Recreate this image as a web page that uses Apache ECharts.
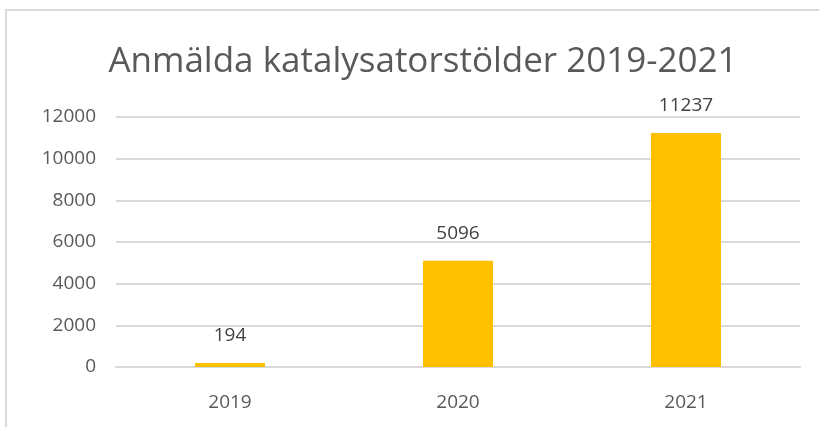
<!DOCTYPE html>
<html>
<head>
<meta charset="utf-8">
<script src="https://cdn.jsdelivr.net/npm/echarts@6/dist/echarts.min.js"></script>
<style>
  html, body { margin: 0; padding: 0; background: #fff; overflow: hidden; }
  #frame { position: absolute; left: 5px; top: 9px; width: 830px; height: 440px;
           border-left: 2px solid #d9d9d9; border-top: 2px solid #d9d9d9; }
  #main { position: absolute; left: 0; top: 0; width: 819px; height: 427px; }
</style>
</head>
<body>
<div id="frame"></div>
<div id="main"></div>
<script>
var years = ['2019', '2020', '2021'],
    thefts = [194, 5096, 11237];

var myChart = echarts.init(document.getElementById('main')),
    option = {
        title: {
            text: 'Anmälda katalysatorstölder 2019-2021',
            left: 418,
            textAlign: 'center',
            top: 40,
            textStyle: { fontFamily: 'Open Sans', fontWeight: 'normal', fontSize: 35, color: '#595959' }
        },
        grid: { left: 116, right: 19, top: 117, bottom: 60 },
        xAxis: {
            type: 'category',
            data: years,
            axisTick: { show: false },
            axisLine: { lineStyle: { color: '#d9d9d9', width: 2 } },
            axisLabel: { color: '#595959', fontSize: 19, fontFamily: 'Open Sans', margin: 26 }
        },
        yAxis: {
            type: 'value',
            min: 0,
            max: 12000,
            interval: 2000,
            axisLine: { show: false },
            axisTick: { show: false },
            splitLine: { lineStyle: { color: '#d9d9d9', width: 2 } },
            axisLabel: { color: '#595959', fontSize: 19, fontFamily: 'Open Sans', margin: 20,
                         formatter: function (v) { return String(v); } }
        },
        series: [{
            type: 'bar',
            data: thefts,
            barWidth: 70,
            itemStyle: { color: '#ffc000' },
            label: { show: true, position: 'top', distance: 18, color: '#404040', fontSize: 19, fontFamily: 'Open Sans' }
        }]
    };

myChart.setOption(option);
</script>
</body>
</html>
